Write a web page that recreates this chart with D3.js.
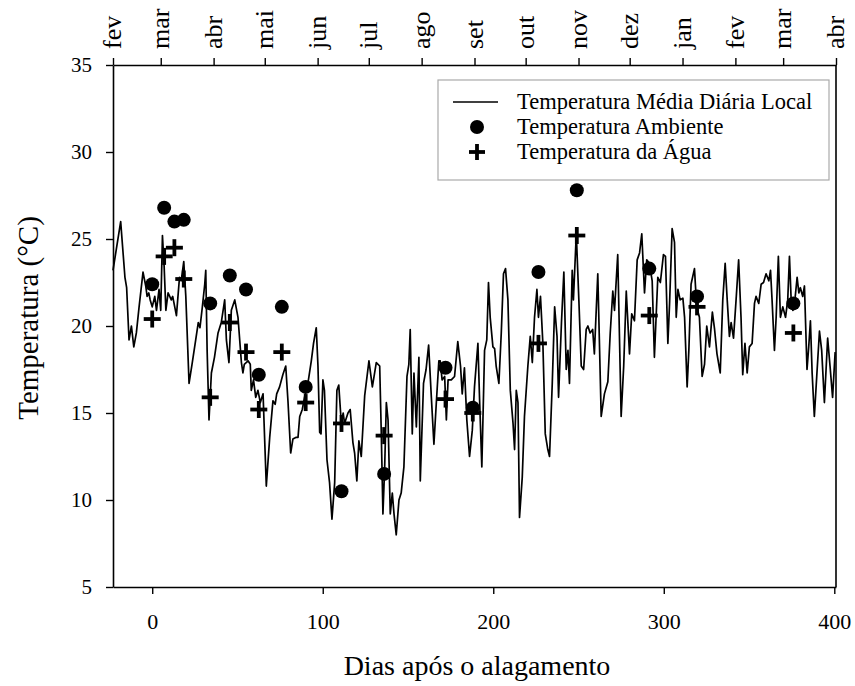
<!DOCTYPE html>
<html><head><meta charset="utf-8">
<script src="https://cdn.jsdelivr.net/npm/d3@7"></script>
<style>body{margin:0;background:#fff}svg{display:block}text{font-family:"Liberation Serif","Times New Roman",serif;fill:#000}</style>
</head><body><svg id="c" width="855" height="686"></svg>
<script>
// Daily mean local temperature (vertices)
const lineDays = [-23,-18.5,-16,-15,-13.6,-12.2,-10.8,-9.3,-7.7,-5.4,-3.8,-3,-2,-1.2,0,1.5,2.5,4,5,6,7,8,9.3,11.2,12,14.2,16,17,18.5,19.7,21.6,23.5,25.5,27,28,29.4,30.8,31.4,32.2,33.3,34.7,36.5,38.6,40.5,42.5,43.5,45,46.4,48.4,50.3,52.3,53.2,54,56.2,57.5,58.1,59.4,60.7,62,63.4,65,66.9,68.9,70.8,72.1,73,74.7,76.6,78.3,79.6,81.2,82.5,84.5,85.5,86.5,88,89.3,91.3,93.3,94.6,96.2,97.2,98.2,99,100.1,101,102.5,104,105.4,107,108.3,109.4,110.9,112,112.8,114.8,116.1,117.7,118.7,120,121.2,122.6,124.6,127.1,129.1,131.4,133.4,134.3,135.3,136.3,137.3,138.3,139.6,140.8,141.8,143.1,144.7,146,147.6,149.4,150.5,151.3,152.5,153.5,154.9,156.4,157.2,159.1,160.6,162.1,163.7,165.2,166.5,168.1,168.9,170,171.5,172.5,173.5,175.4,177.3,179.2,180.8,181.8,183.1,184.5,186.1,187.7,189,191,192,193.3,194.9,196.2,197.2,198.2,199.8,200.8,201.7,203.3,204.7,206,207.2,208.6,210,211.6,212.5,213.5,214.5,215.4,217,218.3,220.3,221.7,222.9,224.2,225.6,226.5,227.7,229.1,230.5,232,233,234.6,236,237.4,238.3,240,241.4,242.8,243.8,244.7,246.3,247,248.7,250.2,251.6,253,254.5,255.5,256.8,258.3,259.3,261.3,263.3,265.2,267.2,268.6,270.1,271.1,273,275,276.5,278,279.9,281.2,282.8,284.4,285.8,287.1,288.7,290,291.6,293.2,294.5,296.5,298,299.8,301,302.4,303.4,304.9,306.3,307.3,308.3,309.6,311.2,312.2,313.7,314.7,316,318,319.3,320.9,322.5,323.9,325.2,326.8,328.5,329.8,331.2,333.1,334.6,336,337.2,338.5,339.5,340.9,342.4,343.9,345.3,346.3,347.6,348.9,350.2,351.8,353.2,354.1,355.7,357.1,358.5,360,361.6,362.6,363.5,364.9,365.9,367.2,368.4,369.8,371.4,372.7,373.7,374.7,375.7,377.1,378.2,379.2,380.1,381.5,382.5,384,385,386,387,388.3,389.7,391.3,392.6,394.2,396.1,397.5,399,400.5];
const lineTemps = [23.2,26.0,22.8,22.2,19.2,20.0,18.8,19.6,21.1,23.1,22.3,21.7,21.9,21.5,21.1,21.7,20.9,22.1,20.9,25.2,23.4,20.9,21.9,21.5,21.7,20.6,22.8,22.6,23.7,21.7,16.7,17.9,19.2,20.2,19.9,21.1,22.4,23.2,18.6,14.6,17.3,18.2,19.6,20.2,21.5,19.2,17.9,20.9,21.5,20.5,17.9,17.3,17.8,18.0,17.8,16.3,16.9,15.9,16.3,15.6,16.1,10.8,13.6,15.7,15.5,16.1,16.5,17.2,17.7,15.7,12.7,13.5,13.6,13.6,14.8,15.2,15.9,16.7,18.0,19.0,19.9,17.7,13.9,13.8,16.9,16.3,12.3,11.0,8.9,11.0,16.3,16.6,14.4,15.0,14.4,15.0,15.2,13.3,12.7,11.1,13.4,12.5,16.0,18.0,16.5,17.9,17.7,14.0,9.2,11.8,15.6,14.6,9.2,10.4,9.2,8.0,10.0,10.4,11.9,17.1,17.8,19.8,13.8,17.3,14.2,18.2,11.1,16.7,17.5,18.9,15.9,13.2,15.4,18.0,18.0,16.9,17.1,14.6,16.9,16.9,17.1,19.1,17.7,16.1,17.6,14.6,12.5,14.0,16.5,19.0,15.7,11.9,18.6,19.2,22.5,20.5,18.8,18.7,17.7,16.7,19.6,23.0,23.3,21.5,16.3,14.4,12.9,16.3,15.6,9.0,11.3,14.8,17.7,19.4,17.9,20.5,22.1,20.5,21.7,19.0,13.8,12.9,12.5,16.7,21.1,19.4,15.9,20.2,23.1,17.5,18.6,16.7,23.2,21.5,25.3,21.5,17.7,17.5,19.8,20.0,19.6,19.8,18.4,23.0,14.8,16.1,16.8,19.6,22.0,20.9,24.1,14.8,17.7,22.0,18.4,20.7,20.3,23.8,24.2,25.3,21.9,23.8,23.6,22.6,18.2,22.8,22.5,24.1,24.0,19.0,21.3,25.6,24.8,20.5,22.1,21.5,21.6,20.5,16.5,18.6,22.4,23.3,21.1,20.5,17.1,17.8,20.0,18.8,20.8,19.8,18.4,17.3,21.5,23.6,21.5,19.4,20.2,19.3,21.5,23.8,20.5,17.2,19.0,17.3,18.8,19.0,21.3,21.7,21.3,22.4,22.5,23.0,22.6,23.2,21.5,18.6,20.5,24.0,20.5,21.1,20.5,21.5,24.0,21.5,20.9,21.7,22.8,21.9,22.2,21.7,22.3,17.5,18.8,20.3,17.3,14.8,17.1,19.7,18.6,15.6,19.3,17.7,15.9,18.5];
// Sampling days, ambient and water temperatures
const sampleDays = [0,7,13,18.5,34,45.5,55,62.5,76,90,111,136,172,188,226.5,249,291.5,319.5,376];
const ambientTemps = [22.4,26.8,26.0,26.1,21.3,22.9,22.1,17.2,21.1,16.5,10.5,11.5,17.6,15.3,23.1,27.8,23.3,21.7,21.3];
const waterTemps = [20.4,24.0,24.5,22.7,15.9,20.2,18.5,15.2,18.5,15.6,14.4,13.7,15.8,15.0,19.0,25.2,20.6,21.1,19.6];
// Axis ticks
const xTicks = [0,100,200,300,400];
const yTicks = [5,10,15,20,25,30,35];
const monthDays = [-23,5,36,66,97,127,158,189,219,250,280,311,342,370,401];
const monthLabels = ["fev","mar","abr","mai","jun","jul","ago","set","out","nov","dez","jan","fev","mar","abr"];
const seriesNames = ["Temperatura Média Diária Local","Temperatura Ambiente","Temperatura da Água"];

const svg = d3.select("#c");
const L=113, R=836, T=65, B=587;
const x = d3.scaleLinear().domain([-23,401]).range([L,R]);
const y = d3.scaleLinear().domain([5,35]).range([B,T]);
const FF = '"Liberation Serif","Times New Roman",serif';

// axes
const gx = svg.append("g").attr("transform",`translate(0,${B})`)
  .call(d3.axisBottom(x).tickValues(xTicks).tickSize(7).tickPadding(19).tickSizeOuter(0));
const gy = svg.append("g").attr("transform",`translate(${L},0)`)
  .call(d3.axisLeft(y).tickValues(yTicks).tickSize(7).tickPadding(14).tickSizeOuter(0));
const gt = svg.append("g").attr("transform",`translate(0,${T})`)
  .call(d3.axisTop(x).tickValues(monthDays).tickFormat((d,i)=>monthLabels[i]).tickSize(7).tickSizeOuter(0));
[gx,gy,gt].forEach(g=>{
  g.attr("font-family",FF);
  g.selectAll(".domain").attr("stroke","#000").attr("stroke-width",1.6);
  g.selectAll(".tick line").attr("stroke","#000").attr("stroke-width",1.4);
  g.selectAll("text").style("font-family",FF).attr("fill","#000");
});
gx.selectAll("text").attr("font-size",22);
gy.selectAll("text").attr("font-size",21);
gt.selectAll(".tick text").attr("font-size",26).attr("transform","rotate(-90)").attr("text-anchor","start")
  .attr("x",16).attr("y",0).attr("dy","0.3em");
// right border
svg.append("line").attr("x1",R).attr("x2",R).attr("y1",T).attr("y2",B).attr("stroke","#000").attr("stroke-width",1.6);

// line
const pts = lineDays.map((d,i)=>[d,lineTemps[i]]);
svg.append("path").datum(pts)
  .attr("d", d3.line().x(d=>x(d[0])).y(d=>y(d[1])))
  .attr("fill","none").attr("stroke","#000").attr("stroke-width",1.7).attr("stroke-linejoin","round");

// ambient circles
svg.append("g").selectAll("circle").data(sampleDays).join("circle")
  .attr("cx",d=>x(d)).attr("cy",(d,i)=>y(ambientTemps[i])).attr("r",7).attr("fill","#000");
// water crosses
svg.append("g").selectAll("g").data(sampleDays).join("g")
  .attr("transform",(d,i)=>`translate(${x(d)},${y(waterTemps[i])})`)
  .each(function(){
    const g=d3.select(this);
    g.append("line").attr("x1",-8.5).attr("x2",8.5).attr("stroke","#000").attr("stroke-width",3.8);
    g.append("line").attr("y1",-8.5).attr("y2",8.5).attr("stroke","#000").attr("stroke-width",3.8);
  });

// legend
const lg = svg.append("g");
lg.append("rect").attr("x",438).attr("y",80).attr("width",391).attr("height",100)
  .attr("fill","#fff").attr("stroke","#aaa").attr("stroke-width",1.2);
const rows=[102,127,152];
lg.append("line").attr("x1",453).attr("x2",498).attr("y1",rows[0]).attr("y2",rows[0]).attr("stroke","#000").attr("stroke-width",1.7);
lg.append("circle").attr("cx",477).attr("cy",rows[1]).attr("r",7).attr("fill","#000");
lg.append("line").attr("x1",469).attr("x2",485).attr("y1",rows[2]).attr("y2",rows[2]).attr("stroke","#000").attr("stroke-width",3.8);
lg.append("line").attr("x1",477).attr("x2",477).attr("y1",rows[2]-8).attr("y2",rows[2]+8).attr("stroke","#000").attr("stroke-width",3.8);
lg.selectAll("text.l").data(seriesNames).join("text").attr("class","l")
  .attr("x",517).attr("y",(d,i)=>rows[i]).attr("dy","0.32em").attr("font-size",22.5).text(d=>d);

// titles
svg.append("text").attr("x",477).attr("y",665).attr("dy","0.35em").attr("text-anchor","middle")
  .attr("font-size",28).text("Dias após o alagamento");
svg.append("text").attr("transform","translate(38,318) rotate(-90)").attr("text-anchor","middle")
  .attr("font-size",29).text("Temperatura (°C)");
</script></body></html>
